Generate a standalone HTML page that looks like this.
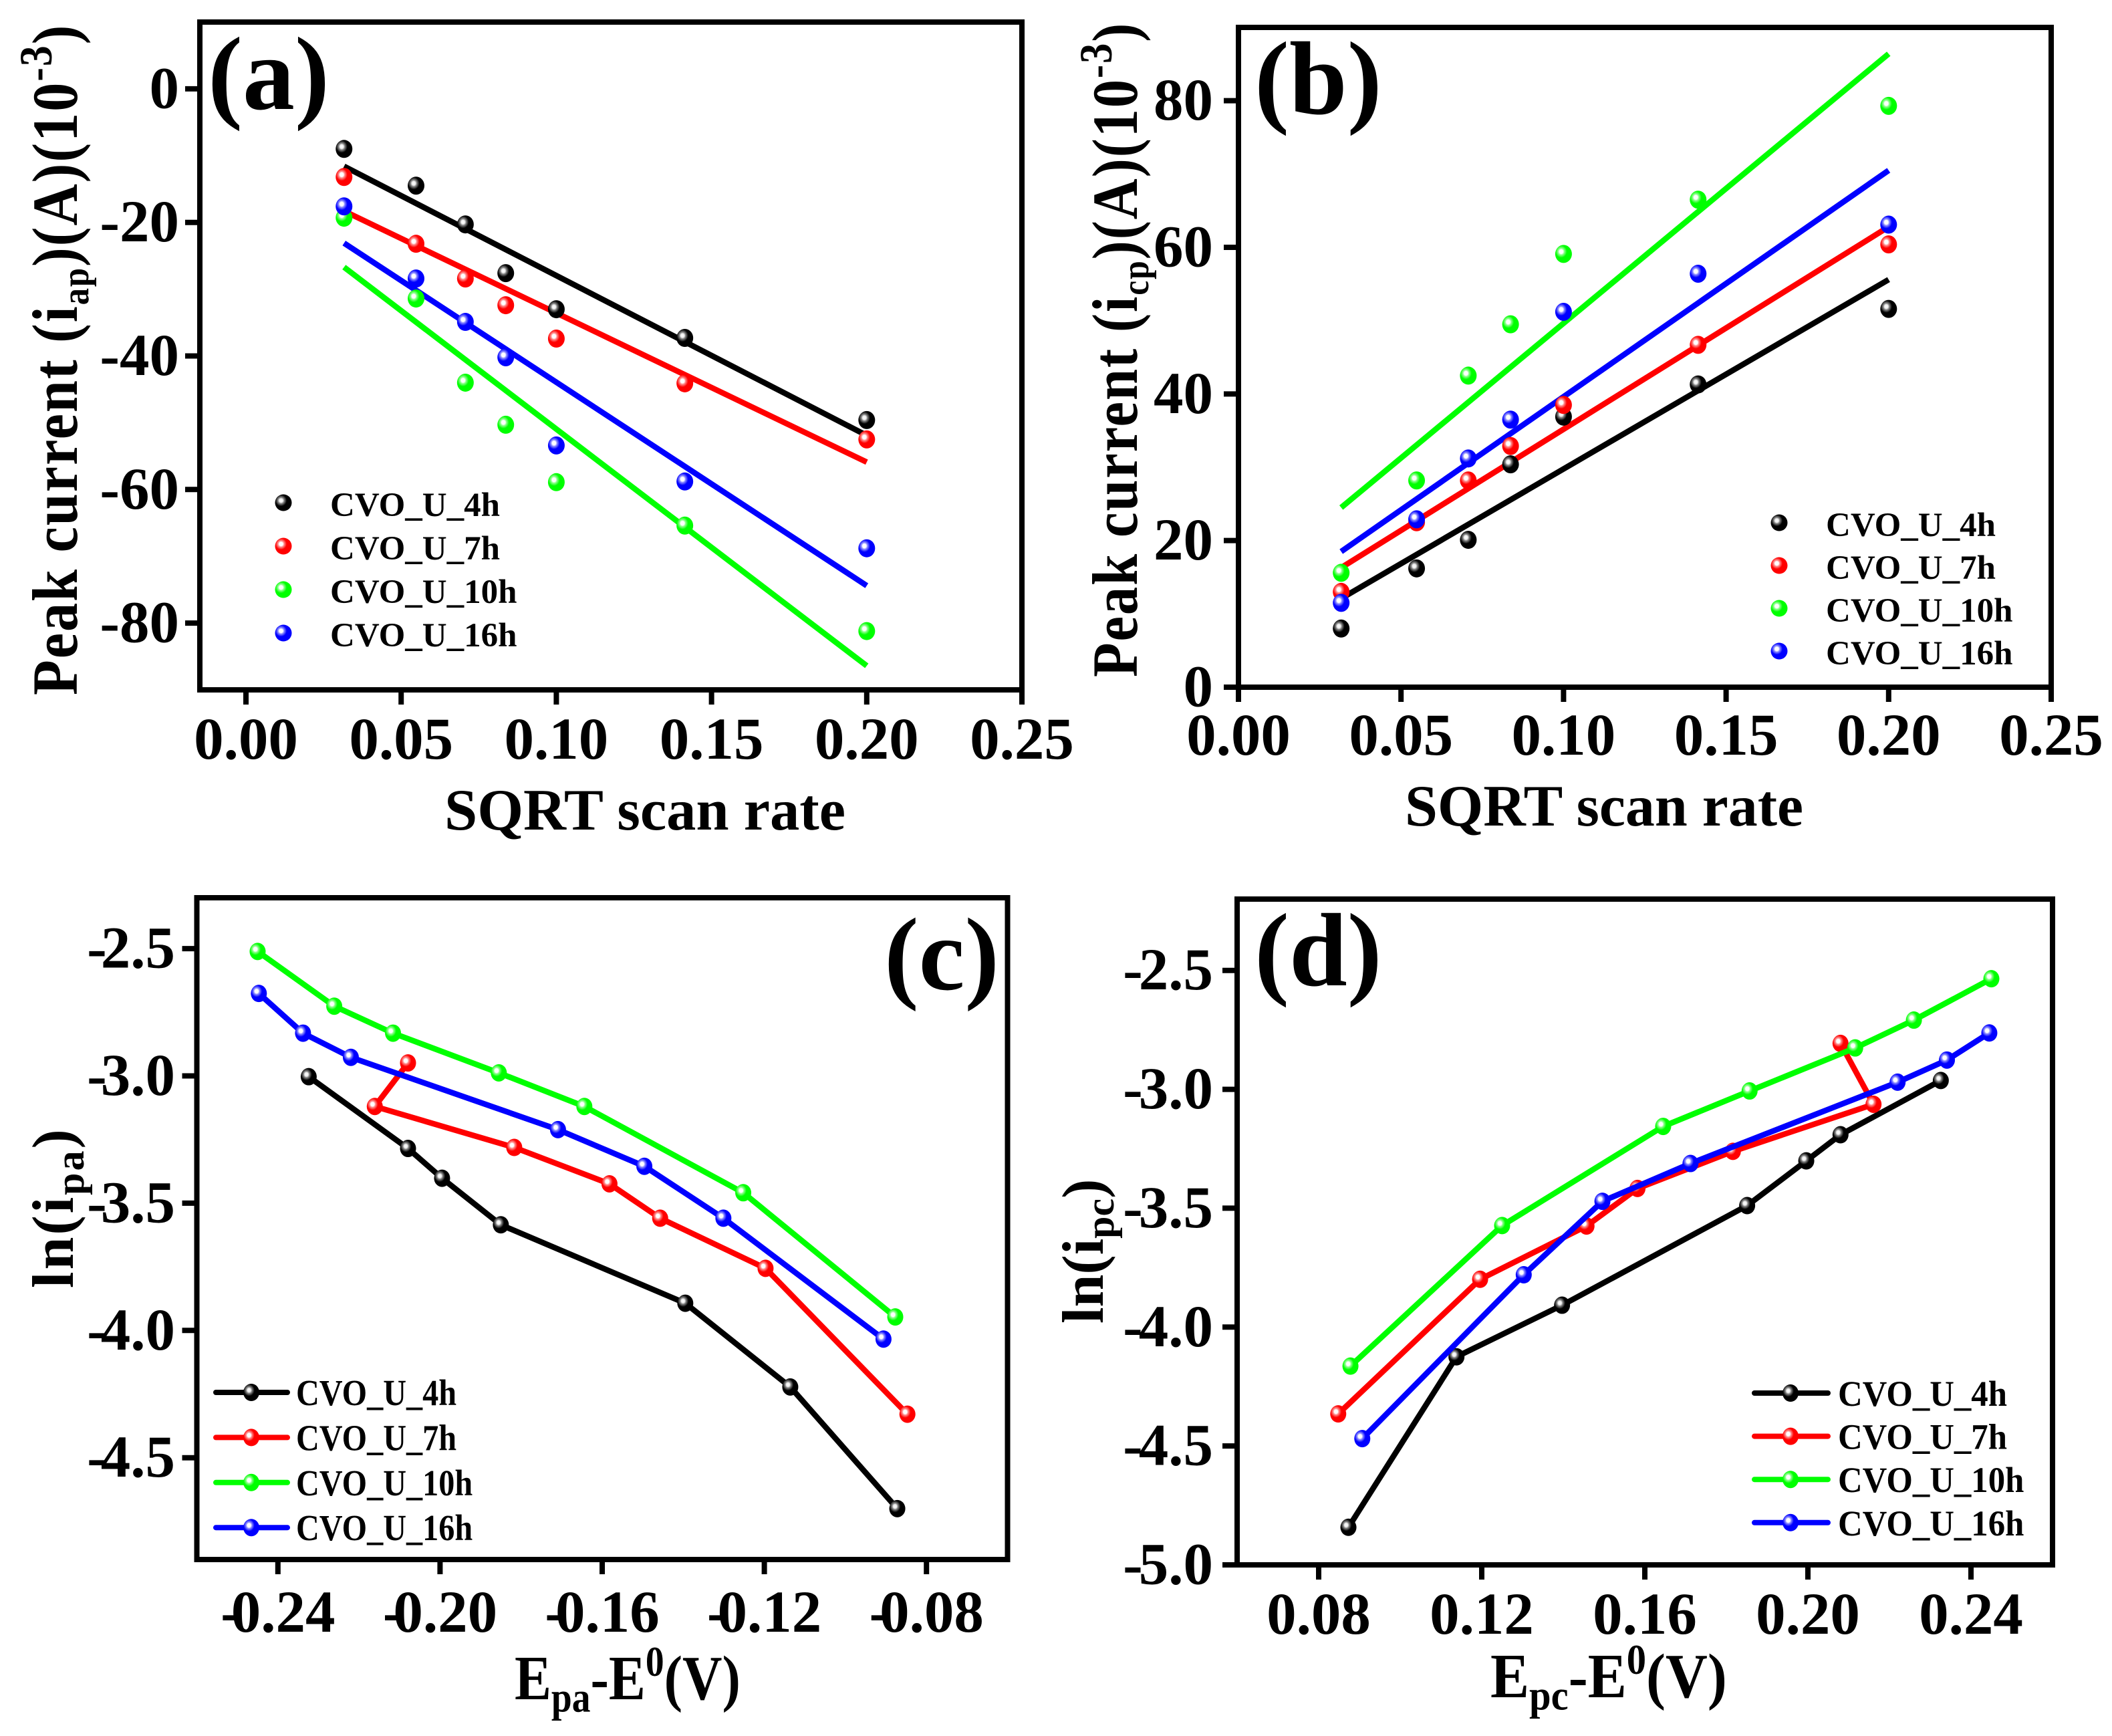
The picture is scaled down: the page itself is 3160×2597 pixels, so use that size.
<!DOCTYPE html>
<html lang="en">
<head>
<meta charset="utf-8">
<title>Peak current and ln(i) charts for CVO_U samples</title>
<style>
html,body{margin:0;padding:0;background:#fff;}
svg{display:block;}
text{font-family:"Liberation Serif",serif;font-weight:bold;fill:#000;}
</style>
</head>
<body>
<svg id="figure" xmlns="http://www.w3.org/2000/svg" width="3160" height="2597" viewBox="0 0 3160 2597">
<defs>
<radialGradient id="ball-0" cx="0.36" cy="0.37" r="0.36"><stop offset="0" stop-color="#fff"/><stop offset="0.3" stop-color="#eee"/><stop offset="0.5" stop-color="#888"/><stop offset="0.95" stop-color="#000"/></radialGradient>
<radialGradient id="ball-1" cx="0.36" cy="0.37" r="0.36"><stop offset="0" stop-color="#fff"/><stop offset="0.3" stop-color="#fff"/><stop offset="0.5" stop-color="#ff9090"/><stop offset="0.95" stop-color="#f00"/></radialGradient>
<radialGradient id="ball-2" cx="0.36" cy="0.37" r="0.36"><stop offset="0" stop-color="#fff"/><stop offset="0.3" stop-color="#fff"/><stop offset="0.5" stop-color="#90ff90"/><stop offset="0.95" stop-color="#0f0"/></radialGradient>
<radialGradient id="ball-3" cx="0.36" cy="0.37" r="0.36"><stop offset="0" stop-color="#fff"/><stop offset="0.3" stop-color="#fff"/><stop offset="0.5" stop-color="#9090ff"/><stop offset="0.95" stop-color="#00f"/></radialGradient>
</defs>
<rect x="0" y="0" width="3160" height="2597" fill="#fff"/>

<g id="panel-a"></g>
<g id="panel-b"></g>
<g id="panel-c"></g>
<g id="panel-d"></g>

<text x="311" y="163" font-size="156">(a)</text>
<text x="1877" y="170" font-size="156">(b)</text>
<text x="1323" y="1480" font-size="155">(c)</text>
<text x="1877" y="1474" font-size="156">(d)</text>

<text x="665" y="1241" font-size="88" textLength="600" lengthAdjust="spacingAndGlyphs">SQRT scan rate</text>
<text x="2102" y="1235" font-size="88" textLength="596" lengthAdjust="spacingAndGlyphs">SQRT scan rate</text>
<text transform="translate(770,2542) scale(0.895,1.03)" x="0" y="0" font-size="92">E<tspan font-size="62" dy="18">pa</tspan><tspan dy="-18">-E</tspan><tspan font-size="62" dy="-34">0</tspan><tspan dy="34">(V)</tspan></text>
<text transform="translate(2230,2539) scale(0.946,1.03)" x="0" y="0" font-size="92">E<tspan font-size="62" dy="18">pc</tspan><tspan dy="-18">-E</tspan><tspan font-size="62" dy="-34">0</tspan><tspan dy="34">(V)</tspan></text>

<text transform="translate(115,1040) rotate(-90) scale(0.94,1.05)" x="0" y="0" font-size="92" letter-spacing="2">Peak current (i<tspan font-size="54" dy="16">ap</tspan><tspan dy="-16">)(A)(10</tspan><tspan font-size="66" dy="-36">-3</tspan><tspan dy="36">)</tspan></text>
<text transform="translate(1701,1013) rotate(-90) scale(0.92,1.05)" x="0" y="0" font-size="92" letter-spacing="2">Peak current (i<tspan font-size="54" dy="16">cp</tspan><tspan dy="-16">)(A)(10</tspan><tspan font-size="66" dy="-36">-3</tspan><tspan dy="36">)</tspan></text>
<text transform="translate(109,1927) rotate(-90)" x="0" y="0" font-size="88" letter-spacing="3">ln(i<tspan font-size="60" dy="16">pa</tspan><tspan dy="-16">)</tspan></text>
<text transform="translate(1650,1980) rotate(-90)" x="0" y="0" font-size="88">ln(i<tspan font-size="60" dy="16">pc</tspan><tspan dy="-16">)</tspan></text>
</svg>

<script>
// ---- shared data ----
const seriesNames = ['CVO_U_4h', 'CVO_U_7h', 'CVO_U_10h', 'CVO_U_16h'];
const seriesColors = ['#000000', '#ff0000', '#00ff00', '#0000ff'];
const sqrtScanRate = [0.0316, 0.0548, 0.0707, 0.0837, 0.1, 0.1414, 0.2];

// ---- panel (a) ----
const aBlack = [-9.0, -14.5, -20.3, -27.6, -33.0, -37.3, -49.6];
const aRed = [-13.2, -23.2, -28.4, -32.4, -37.4, -44.1, -52.5];
const aGreen = [-19.3, -31.4, -44.0, -50.3, -58.9, -65.4, -81.2];
const aBlue = [-17.6, -28.4, -34.9, -40.2, -53.4, -58.8, -68.8];
const aFitFirst = [-11.6, -18.3, -26.7, -23.1];
const aFitLast = [-51.9, -55.9, -86.4, -74.4];
const aXTicks = [0, 0.05, 0.10, 0.15, 0.20, 0.25];
const aXLabels = ['0.00', '0.05', '0.10', '0.15', '0.20', '0.25'];
const aYTicks = [0, -20, -40, -60, -80];
const aYLabels = ['0', '-20', '-40', '-60', '-80'];

// ---- panel (b) ----
const bBlack = [8.0, 16.2, 20.1, 30.4, 36.9, 41.3, 51.6];
const bRed = [13.0, 22.5, 28.2, 32.9, 38.5, 46.7, 60.4];
const bGreen = [15.6, 28.2, 42.5, 49.5, 59.1, 66.5, 79.3];
const bBlue = [11.5, 22.9, 31.2, 36.5, 51.2, 56.4, 63.1];
const bFitFirst = [12.1, 16.3, 24.5, 18.5];
const bFitLast = [55.6, 62.8, 86.4, 70.5];
const bXTicks = [0, 0.05, 0.10, 0.15, 0.20, 0.25];
const bXLabels = ['0.00', '0.05', '0.10', '0.15', '0.20', '0.25'];
const bYTicks = [0, 20, 40, 60, 80];
const bYLabels = ['0', '20', '40', '60', '80'];

// ---- panel (c) ----
const cBlackX = [-0.2324, -0.2079, -0.1995, -0.1850, -0.1395, -0.1136, -0.0872];
const cBlackY = [-3.003, -3.285, -3.402, -3.585, -3.893, -4.222, -4.700];
const cRedX = [-0.2079, -0.2161, -0.1817, -0.1582, -0.1457, -0.1197, -0.0847];
const cRedY = [-2.949, -3.120, -3.281, -3.424, -3.559, -3.756, -4.329];
const cGreenX = [-0.2450, -0.2261, -0.2116, -0.1855, -0.1644, -0.1252, -0.0877];
const cGreenY = [-2.511, -2.726, -2.832, -2.988, -3.120, -3.459, -3.947];
const cBlueX = [-0.2447, -0.2338, -0.2220, -0.1709, -0.1496, -0.1301, -0.0906];
const cBlueY = [-2.676, -2.832, -2.927, -3.211, -3.355, -3.559, -4.034];
const cXTicks = [-0.24, -0.20, -0.16, -0.12, -0.08];
const cXLabels = ['-0.24', '-0.20', '-0.16', '-0.12', '-0.08'];
const cYTicks = [-2.5, -3.0, -3.5, -4.0, -4.5];
const cYLabels = ['-2.5', '-3.0', '-3.5', '-4.0', '-4.5'];

// ---- panel (d) ----
const dBlackX = [0.0873, 0.1138, 0.1397, 0.1851, 0.1996, 0.2080, 0.2326];
const dBlackY = [-4.842, -4.125, -3.908, -3.489, -3.301, -3.191, -2.963];
const dRedX = [0.0848, 0.1196, 0.1457, 0.1582, 0.1816, 0.2161, 0.2080];
const dRedY = [-4.365, -3.799, -3.575, -3.417, -3.261, -3.063, -2.807];
const dGreenX = [0.0878, 0.1250, 0.1645, 0.1857, 0.2116, 0.2260, 0.2450];
const dGreenY = [-4.164, -3.573, -3.156, -3.007, -2.826, -2.709, -2.535];
const dBlueX = [0.0907, 0.1303, 0.1496, 0.1712, 0.2220, 0.2341, 0.2445];
const dBlueY = [-4.469, -3.780, -3.471, -3.312, -2.970, -2.877, -2.763];
const dXTicks = [0.08, 0.12, 0.16, 0.20, 0.24];
const dXLabels = ['0.08', '0.12', '0.16', '0.20', '0.24'];
const dYTicks = [-2.5, -3.0, -3.5, -4.0, -4.5, -5.0];
const dYLabels = ['-2.5', '-3.0', '-3.5', '-4.0', '-4.5', '-5.0'];

const SVGNS = 'http://www.w3.org/2000/svg';
function make(parent, tag, attrs) {
  const el = document.createElementNS(SVGNS, tag);
  for (const k in attrs) el.setAttribute(k, attrs[k]);
  parent.appendChild(el);
  return el;
}
function linearScale(domain, range) {
  return function (v) {
    return range[0] + (v - domain[0]) * (range[1] - range[0]) / (domain[1] - domain[0]);
  };
}
function drawMarker(parent, x, y, i, rx, ry) {
  const el = make(parent, 'ellipse', { cx: x, cy: y, rx: rx, ry: ry, fill: 'url(#ball-' + i + ')' });
  return el;
}
function setTickText(label, str, hyphenGap) {
  if (str.charAt(0) === '-' && hyphenGap) {
    const hy = make(label, 'tspan', { 'letter-spacing': hyphenGap });
    hy.textContent = '-';
    const rest = make(label, 'tspan', {});
    rest.textContent = str.slice(1);
  } else {
    label.textContent = str;
  }
}

function drawFrame(id, f, xScale, yScale, xTicks, xLabels, yTicks, yLabels) {
  const g = document.getElementById(id);
  const frame = make(g, 'rect', { x: f.left, y: f.top, width: f.right - f.left, height: f.bottom - f.top, fill: 'none', stroke: '#000', 'stroke-width': 8 });
  
  
  xTicks.forEach(function (t, i) {
    const px = xScale(t);
    const tick = make(g, 'line', { x1: px, x2: px, y1: f.bottom, y2: f.bottom + 22, stroke: '#000', 'stroke-width': 8 });
    
    
    const label = make(g, 'text', { x: px, y: f.xLabelY, 'font-size': 89, 'text-anchor': 'middle' });
    setTickText(label, xLabels[i], f.xHyphenGap);
    
    
  });
  yTicks.forEach(function (t, i) {
    const py = yScale(t);
    const tick = make(g, 'line', { x1: f.left - 22, x2: f.left, y1: py, y2: py, stroke: '#000', 'stroke-width': 8 });
    
    
    const label = make(g, 'text', { x: f.yLabelX, y: py + 28.5, 'font-size': 89, 'text-anchor': 'end' });
    setTickText(label, yLabels[i], f.yHyphenGap);
    
    
  });
  return g;
}

function drawScatterPanel(id, f, series, fitFirst, fitLast, xTicks, xLabels, yTicks, yLabels) {
  const xScale = linearScale(f.xDomain, [f.left, f.right]);
  const yScale = linearScale(f.yDomain, [f.bottom, f.top]);
  const g = drawFrame(id, f, xScale, yScale, xTicks, xLabels, yTicks, yLabels);
  series.forEach(function (vals, i) {
    const line = make(g, 'line', {
      x1: xScale(sqrtScanRate[0]), y1: yScale(fitFirst[i]),
      x2: xScale(sqrtScanRate[sqrtScanRate.length - 1]), y2: yScale(fitLast[i]),
      stroke: seriesColors[i], 'stroke-width': 8.5
    });
    
    
  });
  series.forEach(function (vals, i) {
    vals.forEach(function (v, j) {
      const m = drawMarker(g, xScale(sqrtScanRate[j]), yScale(v), i, 12.5, 13.5);
      
      
    });
  });
  seriesNames.forEach(function (name, i) {
    const m = drawMarker(g, f.legendX, f.legendY + i * f.legendStep, i, 12.5, 12.5);
    
    
    const t = make(g, 'text', { x: f.legendTextX, y: f.legendY + 20 + i * f.legendStep, 'font-size': 51 });
    t.textContent = name;
    
    
  });
}

function drawLinePanel(id, f, seriesX, seriesY, xTicks, xLabels, yTicks, yLabels) {
  const xScale = linearScale(f.xDomain, [f.left, f.right]);
  const yScale = linearScale(f.yDomain, [f.bottom, f.top]);
  const g = drawFrame(id, f, xScale, yScale, xTicks, xLabels, yTicks, yLabels);
  seriesX.forEach(function (xs, i) {
    const pts = xs.map(function (x, j) { return xScale(x) + ',' + yScale(seriesY[i][j]); }).join(' ');
    const line = make(g, 'polyline', { points: pts, fill: 'none', stroke: seriesColors[i], 'stroke-width': 8.5, 'stroke-linejoin': 'round' });
    
    
    xs.forEach(function (x, j) {
      const m = drawMarker(g, xScale(x), yScale(seriesY[i][j]), i, 12, 13);
      
      
    });
  });
  seriesNames.forEach(function (name, i) {
    const y = f.legendY + i * f.legendStep;
    const line = make(g, 'line', { x1: f.legendLineX[0], x2: f.legendLineX[1], y1: y, y2: y, stroke: seriesColors[i], 'stroke-width': 8, 'stroke-linecap': 'round' });
    
    
    const m = drawMarker(g, f.legendX, y, i, 12, 13);
    
    
    const t = make(g, 'text', { transform: 'translate(' + f.legendTextX + ',' + (y + 19) + ') scale(1,' + f.legendStretch + ')', 'font-size': f.legendFont });
    t.textContent = name;
    
    
  });
}

drawScatterPanel('panel-a',
  { left: 299, right: 1529, top: 33, bottom: 1032, xDomain: [-0.01486, 0.25], yDomain: [-90, 10], xLabelY: 1135, yLabelX: 268, legendX: 424, legendY: 752, legendStep: 65, legendTextX: 494 },
  [aBlack, aRed, aGreen, aBlue], aFitFirst, aFitLast, aXTicks, aXLabels, aYTicks, aYLabels);

drawScatterPanel('panel-b',
  { left: 1853, right: 3069, top: 41, bottom: 1028, xDomain: [0, 0.25], yDomain: [0, 90], xLabelY: 1129, yLabelX: 1815, legendX: 2662, legendY: 782, legendStep: 64, legendTextX: 2732 },
  [bBlack, bRed, bGreen, bBlue], bFitFirst, bFitLast, bXTicks, bXLabels, bYTicks, bYLabels);

drawLinePanel('panel-c',
  { left: 294.5, right: 1507.5, top: 1343, bottom: 2333, xDomain: [-0.26, -0.06], yDomain: [-4.9, -2.3], xLabelY: 2441, yLabelX: 262, xHyphenGap: -14, yHyphenGap: -9, legendX: 376, legendY: 2083, legendStep: 67.4, legendLineX: [323, 430], legendTextX: 443, legendFont: 48.2, legendStretch: 1.15 },
  [cBlackX, cRedX, cGreenX, cBlueX], [cBlackY, cRedY, cGreenY, cBlueY], cXTicks, cXLabels, cYTicks, cYLabels);

drawLinePanel('panel-d',
  { left: 1851, right: 3071, top: 1345, bottom: 2341, xDomain: [0.06, 0.26], yDomain: [-5.0, -2.2], xLabelY: 2444, yLabelX: 1815, yHyphenGap: -6, legendX: 2679, legendY: 2084, legendStep: 64.6, legendLineX: [2625, 2735], legendTextX: 2750, legendFont: 50.8, legendStretch: 1.07 },
  [dBlackX, dRedX, dGreenX, dBlueX], [dBlackY, dRedY, dGreenY, dBlueY], dXTicks, dXLabels, dYTicks, dYLabels);
</script>
</body>
</html>
